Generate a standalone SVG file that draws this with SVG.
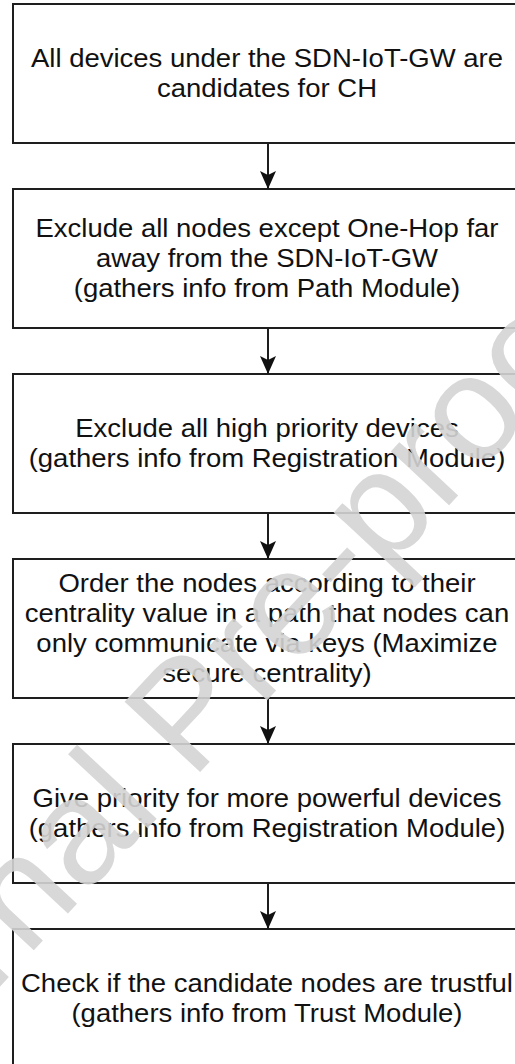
<svg xmlns="http://www.w3.org/2000/svg" width="515" height="1064" viewBox="0 0 515 1064">
  <style>
    .box { fill: #ffffff; stroke: #1e1e1e; stroke-width: 2; }
    .lbl { font-family: "Liberation Sans", Arial, Helvetica, sans-serif; font-size: 25px; fill: #111111; text-anchor: middle; }
    .wide { transform: matrix(1.1, 0, 0, 1, -26.7, 0); }
    .edge { stroke: #1e1e1e; stroke-width: 2; fill: none; marker-end: url(#arrow); }
    .mark { font-family: "Liberation Sans", Arial, Helvetica, sans-serif; font-size: 150px; fill: #d4d4d4; opacity: 0.9; text-anchor: middle; }
  </style>
  <defs>
    <marker id="arrow" markerUnits="userSpaceOnUse" markerWidth="20" markerHeight="18" refX="18" refY="8" orient="auto">
      <path d="M0,0 L18,8 L0,16 L4,8 Z" fill="#111111"/>
    </marker>
  </defs>
  <rect width="515" height="1064" fill="#ffffff"/>

  <g id="step1">
    <rect class="box" x="13" y="4" width="510" height="139"/>
    <g class="wide">
      <text class="lbl" x="267" y="67">All devices under the SDN-IoT-GW are</text>
      <text class="lbl" x="267" y="97">candidates for CH</text>
    </g>
  </g>

  <g id="step2">
    <rect class="box" x="13" y="189" width="510" height="139"/>
    <g class="wide">
      <text class="lbl" x="267" y="237">Exclude all nodes except One-Hop far</text>
      <text class="lbl" x="267" y="267">away from the SDN-IoT-GW</text>
      <text class="lbl" x="267" y="297">(gathers info from Path Module)</text>
    </g>
  </g>

  <g id="step3">
    <rect class="box" x="13" y="374" width="510" height="139"/>
    <g class="wide">
      <text class="lbl" x="267" y="437">Exclude all high priority devices</text>
      <text class="lbl" x="267" y="467">(gathers info from Registration Module)</text>
    </g>
  </g>

  <g id="step4">
    <rect class="box" x="13" y="559" width="510" height="139"/>
    <g class="wide">
      <text class="lbl" x="267" y="592">Order the nodes according to their</text>
      <text class="lbl" x="267" y="622">centrality value in a path that nodes can</text>
      <text class="lbl" x="267" y="652">only communicate via keys (Maximize</text>
      <text class="lbl" x="267" y="682">secure centrality)</text>
    </g>
  </g>

  <g id="step5">
    <rect class="box" x="13" y="744" width="510" height="139"/>
    <g class="wide">
      <text class="lbl" x="267" y="807">Give priority for more powerful devices</text>
      <text class="lbl" x="267" y="837">(gathers info from Registration Module)</text>
    </g>
  </g>

  <g id="step6">
    <rect class="box" x="13" y="929" width="510" height="139"/>
    <g class="wide">
      <text class="lbl" x="267" y="992">Check if the candidate nodes are trustful</text>
      <text class="lbl" x="267" y="1022">(gathers info from Trust Module)</text>
    </g>
  </g>

  <g id="connectors">
    <line class="edge" x1="268" y1="143" x2="268" y2="189"/>
    <line class="edge" x1="268" y1="328" x2="268" y2="374"/>
    <line class="edge" x1="268" y1="513" x2="268" y2="559"/>
    <line class="edge" x1="268" y1="698" x2="268" y2="744"/>
    <line class="edge" x1="268" y1="883" x2="268" y2="929"/>
  </g>

  <!-- diagonal watermark -->
  <text class="mark" x="185" y="712" dominant-baseline="central" transform="rotate(-47 185 712)">Journal Pre-proof</text>
</svg>
